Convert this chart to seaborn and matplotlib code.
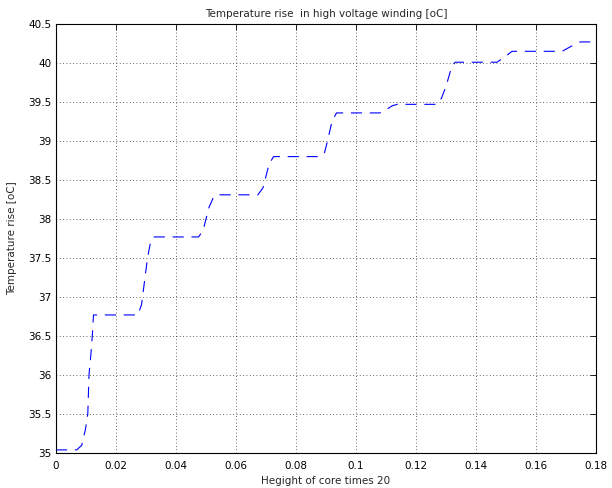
import numpy as np
import pandas as pd
import matplotlib
matplotlib.use("Agg")
import matplotlib.pyplot as plt
import seaborn as sns

# points (height, temperature rise)
height = [0.0, 0.0069, 0.0086, 0.0098, 0.0106, 0.0110, 0.0116, 0.0121, 0.0125,
          0.0273, 0.0285, 0.0295, 0.0305, 0.0315, 0.0325,
          0.0475, 0.0490, 0.0500, 0.0510, 0.0525, 0.0537,
          0.0673, 0.0690, 0.0700, 0.0710, 0.0725,
          0.0880, 0.0895, 0.0905, 0.0920, 0.0935,
          0.1080, 0.1100, 0.1120, 0.1137,
          0.1270, 0.1285, 0.1300, 0.1315, 0.1330,
          0.1470, 0.1500, 0.1520,
          0.1687, 0.1720, 0.1747, 0.1790]
temp_rise = [35.04, 35.04, 35.10, 35.30, 35.50, 36.00, 36.25, 36.50, 36.77,
             36.77, 36.90, 37.20, 37.50, 37.70, 37.77,
             37.77, 37.85, 38.00, 38.15, 38.28, 38.31,
             38.31, 38.40, 38.55, 38.70, 38.80,
             38.80, 38.85, 39.00, 39.25, 39.36,
             39.36, 39.40, 39.45, 39.47,
             39.47, 39.55, 39.70, 39.90, 40.01,
             40.01, 40.09, 40.15,
             40.15, 40.22, 40.27, 40.27]

x_ticks = [0, 0.02, 0.04, 0.06, 0.08, 0.1, 0.12, 0.14, 0.16, 0.18]
x_labels = ["0", "0.02", "0.04", "0.06", "0.08", "0.1", "0.12", "0.14", "0.16", "0.18"]
y_ticks = [35, 35.5, 36, 36.5, 37, 37.5, 38, 38.5, 39, 39.5, 40, 40.5]
y_labels = ["35", "35.5", "36", "36.5", "37", "37.5", "38", "38.5", "39", "39.5", "40", "40.5"]

df = pd.DataFrame({"height": height, "temp": temp_rise})

sns.set_style("white")
plt.rcParams["font.family"] = ["DejaVu Sans"]

fig = plt.figure(figsize=(6.12, 4.88), dpi=100)
ax = fig.add_axes([56 / 612, 35 / 488, 540 / 612, 429 / 488])

sns.lineplot(data=df, x="height", y="temp", ax=ax, color="#0000ff",
             linewidth=0.8, sort=False, estimator=None)
ax.lines[0].set_dashes((10, 7))

ax.set_xlim(0, 0.18)
ax.set_ylim(35, 40.5)
ax.set_xticks(x_ticks)
ax.set_xticklabels(x_labels)
ax.set_yticks(y_ticks)
ax.set_yticklabels(y_labels)
ax.tick_params(direction="in", length=4, width=0.6, labelsize=7.5,
               top=True, right=True, colors="black")
ax.tick_params(axis="x", pad=6)
ax.grid(True, linestyle=(0, (1, 3)), color="black", linewidth=0.6, alpha=0.8)
for sp in ax.spines.values():
    sp.set_color("black")
    sp.set_linewidth(0.8)

ax.set_title("Temperature rise  in high voltage winding [oC]", fontsize=7.5, pad=5)
ax.set_xlabel("Hegight of core times 20", fontsize=7.5, labelpad=3)
ax.set_ylabel("Temperature rise [oC]", fontsize=7.5, labelpad=8)

fig.savefig("out.png", dpi=100)
